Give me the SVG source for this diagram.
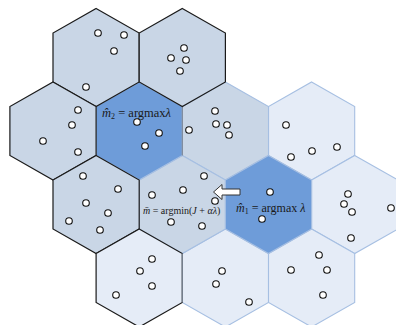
<svg xmlns="http://www.w3.org/2000/svg" width="396" height="325" viewBox="0 0 396 325">
<style>
.mid{fill:#c9d6e6;stroke:#a6bfe2;stroke-width:1.1}
.dark{fill:#6e9cd9;stroke:#a6bfe2;stroke-width:1.1}
.light{fill:#e5ecf7;stroke:#a6bfe2;stroke-width:1.1}
.blk{stroke:#1a1a1a;stroke-width:1.2}
.gry{stroke:#7d8898;stroke-width:1.2;fill:none}
circle{fill:#fff;stroke:#111;stroke-width:1.1}
text{font-family:"Liberation Serif","Times New Roman",serif;fill:#1a1a1a}
.it{font-style:italic}
</style>
<defs>
<polygon id="hex" points="0,-49 43.1,-24.5 43.1,24.5 0,49 -43.1,24.5 -43.1,-24.5"/>
</defs>
<rect width="396" height="325" fill="#fff"/>
<g id="hexF"><use href="#hex" x="311.6" y="131" class="light"/>
<circle cx="286" cy="125" r="3.3"/><circle cx="337" cy="147" r="3.3"/><circle cx="312" cy="151" r="3.3"/><circle cx="291" cy="157" r="3.3"/></g>
<g id="hexJ"><use href="#hex" x="354.7" y="204.5" class="light"/>
<circle cx="348" cy="194" r="3.3"/><circle cx="344" cy="204" r="3.3"/><circle cx="352" cy="212" r="3.3"/><circle cx="391" cy="208" r="3.3"/><circle cx="351" cy="238" r="3.3"/></g>
<g id="hexL"><use href="#hex" x="225.4" y="278" class="light"/>
<circle cx="222" cy="271" r="3.3"/><circle cx="216" cy="284" r="3.3"/><circle cx="249" cy="302" r="3.3"/></g>
<g id="hexM"><use href="#hex" x="311.6" y="278" class="light"/>
<circle cx="319" cy="255" r="3.3"/><circle cx="291" cy="270" r="3.3"/><circle cx="327" cy="270" r="3.3"/><circle cx="323" cy="295" r="3.3"/></g>
<g id="hexE"><use href="#hex" x="225.4" y="131" class="mid"/>
<circle cx="189" cy="130" r="3.3"/><circle cx="215" cy="111" r="3.3"/><circle cx="216" cy="124" r="3.3"/><circle cx="227" cy="125" r="3.3"/><circle cx="229" cy="135" r="3.3"/></g>
<g id="hexH"><use href="#hex" x="182.3" y="204.5" class="mid"/>
<circle cx="152" cy="195" r="3.3"/><circle cx="183" cy="190" r="3.3"/><circle cx="204" cy="176" r="3.3"/><circle cx="215" cy="201" r="3.3"/><circle cx="171" cy="222" r="3.3"/><circle cx="202" cy="226" r="3.3"/>
<text x="143" y="214" font-size="10"><tspan class="it">m̄</tspan> = argmin(<tspan class="it">J</tspan> + <tspan class="it">αλ</tspan>)</text></g>
<g id="hexI"><use href="#hex" x="268.5" y="204.5" class="dark"/>
<circle cx="270" cy="192" r="3.3"/><circle cx="262" cy="219" r="3.3"/>
<text x="236" y="212" font-size="12"><tspan class="it">m̂</tspan><tspan font-size="8" dy="2">1</tspan><tspan dy="-2"> = argmax </tspan><tspan class="it">λ</tspan></text></g>
<g id="hexD"><use href="#hex" x="139.2" y="131" class="dark"/>
<line x1="182.3" y1="106.5" x2="182.3" y2="155.5" class="gry"/>
<circle cx="137" cy="122" r="3.3"/><circle cx="159" cy="133" r="3.3"/><circle cx="145" cy="146" r="3.3"/>
<text x="102" y="117" font-size="12.5"><tspan class="it">m̂</tspan><tspan font-size="8" dy="2">2</tspan><tspan dy="-2"> = argmax</tspan><tspan class="it">λ</tspan></text></g>
<g id="hexA"><use href="#hex" x="96.1" y="57.5" class="mid blk"/>
<circle cx="98" cy="33" r="3.3"/><circle cx="124" cy="35" r="3.3"/><circle cx="114" cy="51" r="3.3"/><circle cx="86" cy="87" r="3.3"/></g>
<g id="hexB"><use href="#hex" x="182.3" y="57.5" class="mid blk"/>
<circle cx="184" cy="48" r="3.3"/><circle cx="171" cy="58" r="3.3"/><circle cx="186" cy="60" r="3.3"/><circle cx="180" cy="71" r="3.3"/></g>
<g id="hexC"><use href="#hex" x="53" y="131" class="mid blk"/>
<circle cx="78" cy="110" r="3.3"/><circle cx="72" cy="125" r="3.3"/><circle cx="43" cy="141" r="3.3"/><circle cx="78" cy="152" r="3.3"/></g>
<g id="hexG"><use href="#hex" x="96.1" y="204.5" class="mid blk"/>
<circle cx="83" cy="176" r="3.3"/><circle cx="118" cy="189" r="3.3"/><circle cx="86" cy="203" r="3.3"/><circle cx="108" cy="213" r="3.3"/><circle cx="69" cy="221" r="3.3"/><circle cx="100" cy="230" r="3.3"/></g>
<g id="hexK"><use href="#hex" x="139.2" y="278" class="light blk"/>
<line x1="182.3" y1="253.5" x2="182.3" y2="302.5" class="gry"/>
<circle cx="152" cy="259" r="3.3"/><circle cx="140" cy="271" r="3.3"/><circle cx="152" cy="286" r="3.3"/><circle cx="116" cy="295" r="3.3"/></g>
<g id="connectors">
<polygon points="213.5,192 222,184.5 222,189 240,189 240,195 222,195 222,199.5" fill="#fff" stroke="#333" stroke-width="1"/>
</g>
</svg>
